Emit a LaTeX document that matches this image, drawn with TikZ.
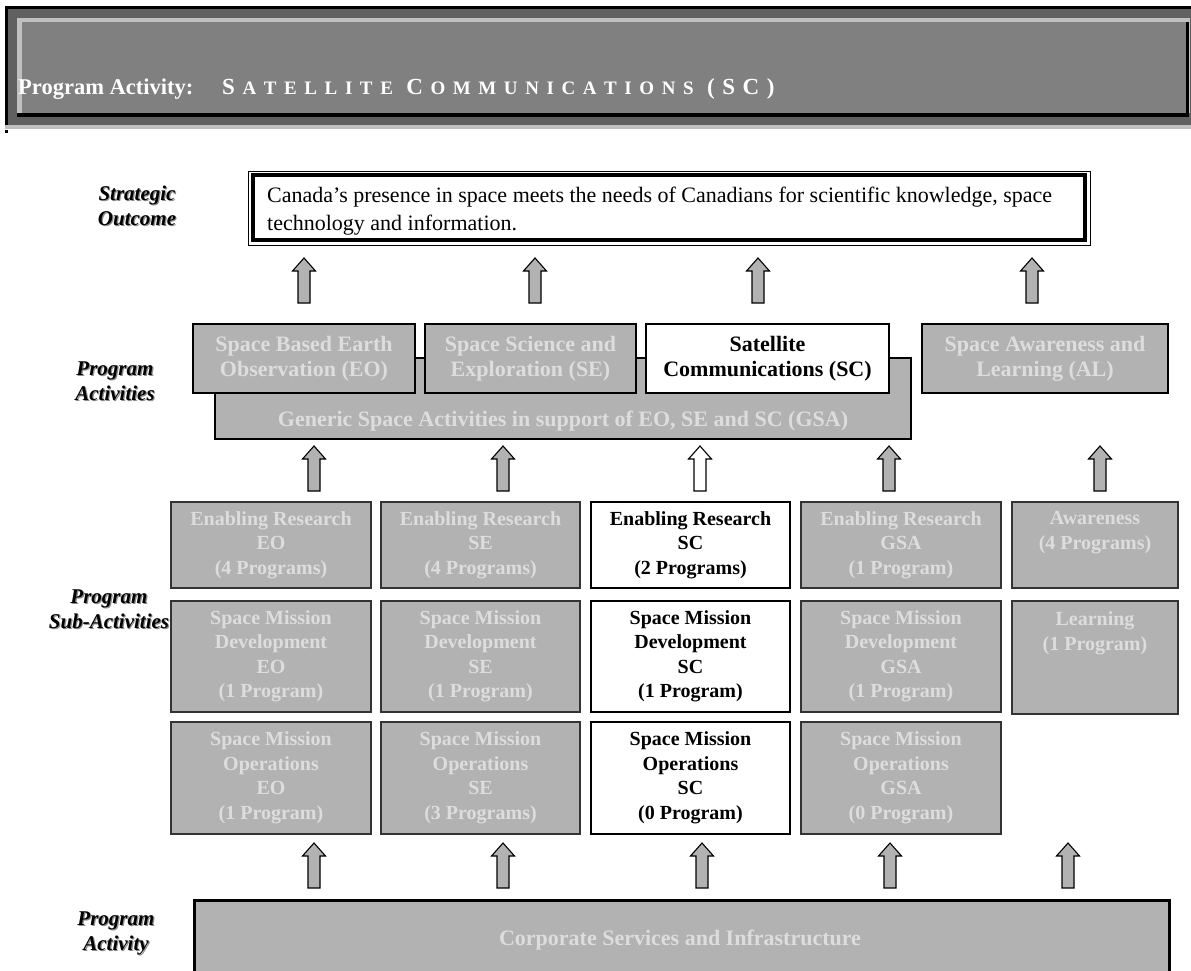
\documentclass[tikz,border=0pt]{standalone}
\usepackage{fontspec}
\setmainfont{Liberation Serif}
\usetikzlibrary{calc}
\definecolor{boxgray}{HTML}{B2B2B2}
\definecolor{txtgray}{HTML}{DDDDDD}
\definecolor{hdrdark}{HTML}{606060}
\definecolor{hdrfill}{HTML}{808080}
\definecolor{hdrlight}{HTML}{C0C0C0}
\newcommand\mysubfont{\fontsize{20}{24.5}\selectfont\bfseries}
\newcommand\myactfont{\fontsize{22}{25}\selectfont\bfseries}
\newcommand\mylabfont{\fontsize{21}{25}\selectfont\bfseries\itshape}
\ExplSyntaxOn
\NewDocumentCommand\spacedword{m}{\tl_map_inline:nn{#1}{##1\kern 7.6pt}}
\ExplSyntaxOff
\newcommand\fsc[2]{\spacedword{#1}{\fontsize{19}{19}\selectfont\spacedword{#2}}}
\begin{document}
\begin{tikzpicture}[x=1pt,y=-1pt,line join=miter,
  graybox/.style={draw=black!80,line width=1.3pt,fill=boxgray,text=txtgray,inner sep=0pt,align=center,font=\mysubfont,execute at begin node={\rule{0pt}{21.8pt}}},
  whitebox/.style={graybox,draw=black,line width=1.1pt,fill=white,text=black},
  actbox/.style={draw=black,line width=1.8pt,fill=boxgray,text=txtgray,inner sep=0pt,align=center,font=\myactfont,execute at begin node={\rule{0pt}{24pt}}},
  actwhite/.style={actbox,fill=white,text=black},
  labtxt/.style={font=\mylabfont,align=center,inner sep=0pt,text=black},
  labshadow/.style={labtxt,text=black!45},
  pics/blockup/.style={code={
    \draw[line width=1.1pt,fill=#1] (0,0) -- (11.5,13) -- (6,13) -- (6,45) -- (-6,45) -- (-6,13) -- (-11.5,13) -- cycle;}}
]
\useasboundingbox (0,0) rectangle (1191,971);
\fill[white] (0,0) rectangle (1191,971);
% header
\fill[black] (5,6) rectangle (1191,125);
\fill[hdrdark] (8,9) rectangle (1191,125);
\fill[hdrlight] (5,125) rectangle (1191,129);
\fill[black] (5,130) rectangle (8,133);
\fill[hdrlight] (17,18) rectangle (1190,113);
\fill[black] (17,113) rectangle (1189,117);
\fill[black] (1186,22) rectangle (1189,117);
\fill[hdrfill] (22,22) rectangle (1186,113);
\node[anchor=base west,inner sep=0pt,text=white,font=\fontsize{22.5}{26}\selectfont\bfseries] (pa) at (18,95) {Program Activity:};
\node[anchor=base west,inner sep=0pt,text=white,font=\fontsize{23}{26}\selectfont\bfseries] (sctitle) at (222,95) {\fsc{S}{ATELLITE} \fsc{C}{OMMUNICATIONS} \spacedword{(SC)}};
% left labels
\node[labshadow] (l1s) at (138.2,206.7) {Strategic\\Outcome};
\node[labtxt] (l1) at (137,205.5) {Strategic\\Outcome};
\node[labshadow] (l2s) at (116.2,382.7) {Program\\Activities};
\node[labtxt] (l2) at (115,381.5) {Program\\Activities};
\node[labshadow] (l3s) at (110.2,610.7) {Program\\Sub-Activities};
\node[labtxt] (l3) at (109,609.5) {Program\\Sub-Activities};
\node[labshadow] (l4s) at (117.2,934.7) {Program\\Activity};
\node[labtxt] (l4) at (116,933.5) {Program\\Activity};
% strategic outcome
\node[draw,line width=0.8pt,minimum width=842,minimum height=74,inner sep=0pt] (outcome) at (669,208) {};
\draw[line width=4pt] ($(outcome.north west)+(5,4)$) rectangle ($(outcome.south east)+(-5,-5)$);
\node[anchor=base west,inner sep=0pt,font=\fontsize{22}{28}\selectfont] (out1) at (267,202) {Canada’s presence in space meets the needs of Canadians for scientific knowledge, space};
\node[anchor=base west,inner sep=0pt,font=\fontsize{22}{28}\selectfont] (out2) at (267,230) {technology and information.};
% arrows to outcome
\pic (ta1) at (304,258) {blockup=boxgray};
\pic (ta2) at (535,258) {blockup=boxgray};
\pic (ta3) at (758,258) {blockup=boxgray};
\pic (ta4) at (1032,258) {blockup=boxgray};
% program activities
\node[actbox,minimum width=696,minimum height=81,execute at begin node={}] (gsa) at (563,398.5) {};
\node[text=txtgray,font=\myactfont,inner sep=0pt] (gsatxt) at (563,421.5) {Generic Space Activities in support of EO, SE and SC (GSA)};
\node[actbox,minimum width=222,minimum height=69] (eo) at (304,358.5) {Space Based Earth\\Observation (EO)};
\node[actbox,minimum width=211,minimum height=69] (se) at (530.5,358.5) {Space Science and\\Exploration (SE)};
\node[actwhite,minimum width=243,minimum height=69] (sc) at (767.5,358.5) {Satellite\\Communications (SC)};
\node[actbox,minimum width=246,minimum height=69] (al) at (1045,358.5) {Space Awareness and\\Learning (AL)};
% arrows to activities
\pic (ma1) at (314,446) {blockup=boxgray};
\pic (ma2) at (503,446) {blockup=boxgray};
\pic (ma3) at (700,446) {blockup=white};
\pic (ma4) at (889,446) {blockup=boxgray};
\pic (ma5) at (1100,446) {blockup=boxgray};
% sub-activities row 1
\node[graybox,minimum width=200,minimum height=86] (er1) at (271,545) {Enabling Research\\EO\\(4 Programs)};
\node[graybox,minimum width=199,minimum height=86] (er2) at (480.5,545) {Enabling Research\\SE\\(4 Programs)};
\node[whitebox,minimum width=199,minimum height=86] (er3) at (690.5,545) {Enabling Research\\SC\\(2 Programs)};
\node[graybox,minimum width=200,minimum height=86] (er4) at (901,545) {Enabling Research\\GSA\\(1 Program)};
\node[graybox,minimum width=166,minimum height=86] (aw) at (1095,545) {Awareness\\(4 Programs)\\\phantom{(}};
% row 2
\node[graybox,minimum width=200,minimum height=111] (md1) at (271,656.5) {Space Mission\\Development\\EO\\(1 Program)};
\node[graybox,minimum width=199,minimum height=111] (md2) at (480.5,656.5) {Space Mission\\Development\\SE\\(1 Program)};
\node[whitebox,minimum width=199,minimum height=111] (md3) at (690.5,656.5) {Space Mission\\Development\\SC\\(1 Program)};
\node[graybox,minimum width=200,minimum height=111] (md4) at (901,656.5) {Space Mission\\Development\\GSA\\(1 Program)};
\node[graybox,minimum width=166,minimum height=113] (lr) at (1095,657.5) {Learning\\(1 Program)\\\phantom{(}\\\phantom{(}};
% row 3
\node[graybox,minimum width=200,minimum height=112] (mo1) at (271,778) {Space Mission\\Operations\\EO\\(1 Program)};
\node[graybox,minimum width=199,minimum height=112] (mo2) at (480.5,778) {Space Mission\\Operations\\SE\\(3 Programs)};
\node[whitebox,minimum width=199,minimum height=112] (mo3) at (690.5,778) {Space Mission\\Operations\\SC\\(0 Program)};
\node[graybox,minimum width=200,minimum height=112] (mo4) at (901,778) {Space Mission\\Operations\\GSA\\(0 Program)};
% arrows from corporate
\pic (ba1) at (314,843) {blockup=boxgray};
\pic (ba2) at (503,843) {blockup=boxgray};
\pic (ba3) at (702,843) {blockup=boxgray};
\pic (ba4) at (890,843) {blockup=boxgray};
\pic (ba5) at (1068,843) {blockup=boxgray};
% corporate
\node[draw=black,line width=2.5pt,fill=boxgray,minimum width=975,minimum height=100,inner sep=0pt,anchor=north west] (corp) at (193,899) {};
\node[text=txtgray,font=\myactfont,inner sep=0pt] (corptxt) at (680,940) {Corporate Services and Infrastructure};
\end{tikzpicture}
\end{document}
